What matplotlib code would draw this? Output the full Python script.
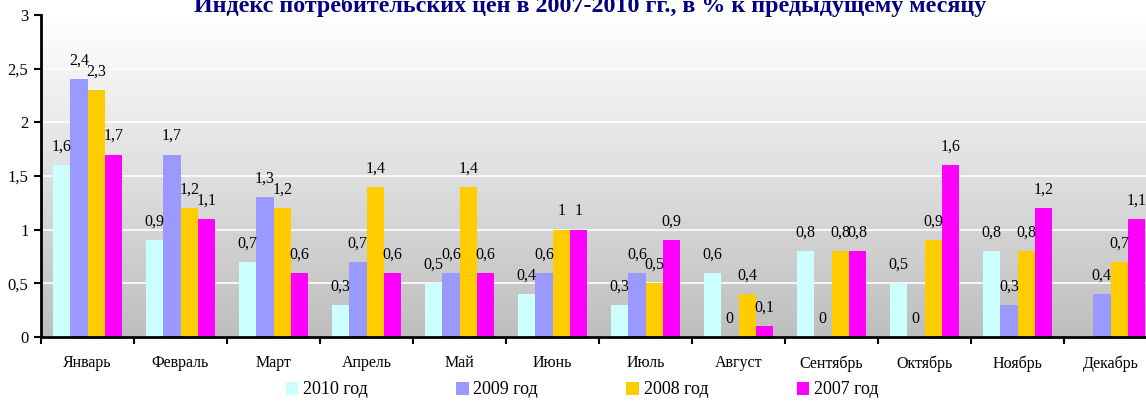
import numpy as np
import matplotlib
matplotlib.use("Agg")
import matplotlib.pyplot as plt
from matplotlib.patches import Patch
from matplotlib.ticker import FixedLocator, NullFormatter, FixedFormatter
from matplotlib.colors import LinearSegmentedColormap

months = ["Январь", "Февраль", "Март", "Апрель", "Май", "Июнь", "Июль",
          "Август", "Сентябрь", "Октябрь", "Ноябрь", "Декабрь"]
series_names = ["2010 год", "2009 год", "2008 год", "2007 год"]
v2010 = [1.6, 0.9, 0.7, 0.3, 0.5, 0.4, 0.3, 0.6, 0.8, 0.5, 0.8, np.nan]
v2009 = [2.4, 1.7, 1.3, 0.7, 0.6, 0.6, 0.6, 0.0, 0.0, 0.0, 0.3, 0.4]
v2008 = [2.3, 1.2, 1.2, 1.4, 1.4, 1.0, 0.5, 0.4, 0.8, 0.9, 0.8, 0.7]
v2007 = [1.7, 1.1, 0.6, 0.6, 0.6, 1.0, 0.9, 0.1, 0.8, 1.6, 1.2, 1.1]
colors = ["#CCFFFF", "#9999FF", "#FFCC00", "#FF00FF"]
title = "Индекс потребительских цен в 2007-2010 гг., в % к предыдущему месяцу"

plt.rcParams['font.family'] = ['Liberation Serif', 'DejaVu Serif']

W, H = 1146, 401
fig = plt.figure(figsize=(W / 100, H / 100), dpi=100)
left, right, bottom, top = 41, 1157, 337, 15
ax = fig.add_axes([left / W, 1 - bottom / H, (right - left) / W, (bottom - top) / H])

# gradient background (white at top, grey at bottom)
grad = np.linspace(1, 0, 256).reshape(-1, 1)
cmap = LinearSegmentedColormap.from_list("g", ["#bebebe", "#ffffff"])
ax.imshow(grad, aspect='auto', cmap=cmap, extent=[-0.5, 11.5, 0, 3],
          origin='upper', zorder=0, vmin=0, vmax=1)

x = np.arange(len(months))
w = 0.186
all_vals = [v2010, v2009, v2008, v2007]
for k, (vals, c) in enumerate(zip(all_vals, colors)):
    xs = x + (k - 1.5) * w
    ax.bar(xs, vals, width=w, color=c, zorder=2, linewidth=0)
    for xi, v in zip(xs, vals):
        if np.isnan(v):
            continue
        s = ("%g" % v).replace(".", ",")
        ax.annotate(s, (xi, v), xytext=(0, 7.5), textcoords='offset points',
                    ha='center', va='bottom', fontsize=11.5, zorder=3)

ax.set_xlim(-0.5, 11.5)
ax.set_ylim(0, 3)
yt = np.arange(0, 3.01, 0.5)
ax.set_yticks(yt)
ax.set_yticklabels([("%g" % t).replace(".", ",") for t in yt], fontsize=12)
ax.yaxis.grid(True, color="white", linewidth=1.2, zorder=1)
ax.set_axisbelow(True)

ax.xaxis.set_major_locator(FixedLocator(np.arange(-0.5, 12, 1)))
ax.xaxis.set_major_formatter(NullFormatter())
ax.xaxis.set_minor_locator(FixedLocator(x))
ax.xaxis.set_minor_formatter(FixedFormatter(months))
ax.tick_params(axis='x', which='minor', length=0, pad=13, labelsize=11.5)
ax.tick_params(axis='x', which='major', length=5, width=1.5, direction='out')
ax.tick_params(axis='y', length=5, width=1.5, direction='out', pad=4)

for s in ["top", "right"]:
    ax.spines[s].set_visible(False)
for s in ["left", "bottom"]:
    ax.spines[s].set_linewidth(2)
    ax.spines[s].set_zorder(4)

fig.text(590 / W, 1 - 12 / H, title, ha='center', va='baseline', fontsize=17.3,
         fontweight='bold', color="#000080")

handles = [Patch(facecolor=c, edgecolor='none') for c in colors]
fig.legend(handles, series_names, loc='center', bbox_to_anchor=(582 / W, 1 - 390 / H),
           ncol=4, frameon=False, fontsize=13, handlelength=0.7, handleheight=0.7,
           handletextpad=0.25, columnspacing=4.9, borderaxespad=0)

fig.savefig("out.png", dpi=100)
